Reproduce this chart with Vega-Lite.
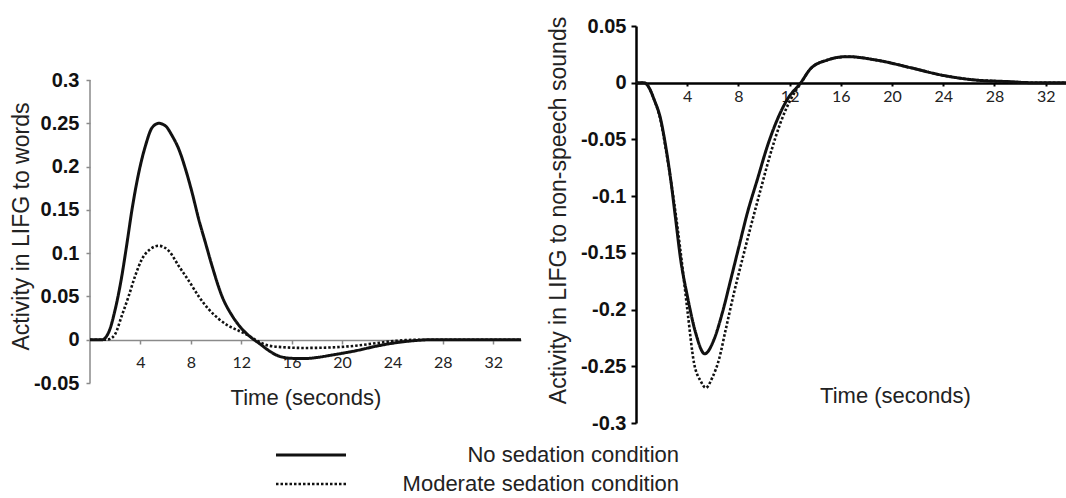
{
  "$schema": "https://vega.github.io/schema/vega-lite/v6.json",
  "background": "white",
  "padding": {"left": 10, "top": 16, "right": 0, "bottom": 0},
  "spacing": 19,
  "config": {"view": {"stroke": null}, "font": "Liberation Sans"},
  "datasets": {
    "curves": [
      {"panel": "words", "condition": "No sedation condition", "t": 0, "v": 0},
      {"panel": "words", "condition": "No sedation condition", "t": 0.95, "v": 0},
      {"panel": "words", "condition": "No sedation condition", "t": 1.48, "v": 0.0085},
      {"panel": "words", "condition": "No sedation condition", "t": 2.0, "v": 0.035},
      {"panel": "words", "condition": "No sedation condition", "t": 2.53, "v": 0.074},
      {"panel": "words", "condition": "No sedation condition", "t": 2.94, "v": 0.112},
      {"panel": "words", "condition": "No sedation condition", "t": 3.34, "v": 0.151},
      {"panel": "words", "condition": "No sedation condition", "t": 3.87, "v": 0.193},
      {"panel": "words", "condition": "No sedation condition", "t": 4.4, "v": 0.224},
      {"panel": "words", "condition": "No sedation condition", "t": 4.93, "v": 0.245},
      {"panel": "words", "condition": "No sedation condition", "t": 5.46, "v": 0.25},
      {"panel": "words", "condition": "No sedation condition", "t": 5.99, "v": 0.247},
      {"panel": "words", "condition": "No sedation condition", "t": 6.52, "v": 0.2355},
      {"panel": "words", "condition": "No sedation condition", "t": 7.05, "v": 0.22},
      {"panel": "words", "condition": "No sedation condition", "t": 7.58, "v": 0.197},
      {"panel": "words", "condition": "No sedation condition", "t": 8.1, "v": 0.17},
      {"panel": "words", "condition": "No sedation condition", "t": 8.63, "v": 0.139},
      {"panel": "words", "condition": "No sedation condition", "t": 9.16, "v": 0.112},
      {"panel": "words", "condition": "No sedation condition", "t": 9.69, "v": 0.085},
      {"panel": "words", "condition": "No sedation condition", "t": 10.48, "v": 0.05},
      {"panel": "words", "condition": "No sedation condition", "t": 11.28, "v": 0.0277},
      {"panel": "words", "condition": "No sedation condition", "t": 12.07, "v": 0.0123},
      {"panel": "words", "condition": "No sedation condition", "t": 12.87, "v": 0.0016},
      {"panel": "words", "condition": "No sedation condition", "t": 13.5, "v": -0.005},
      {"panel": "words", "condition": "No sedation condition", "t": 14.2, "v": -0.0127},
      {"panel": "words", "condition": "No sedation condition", "t": 15.0, "v": -0.019},
      {"panel": "words", "condition": "No sedation condition", "t": 16.0, "v": -0.0215},
      {"panel": "words", "condition": "No sedation condition", "t": 17.0, "v": -0.0218},
      {"panel": "words", "condition": "No sedation condition", "t": 18.0, "v": -0.0205},
      {"panel": "words", "condition": "No sedation condition", "t": 19.2, "v": -0.0177},
      {"panel": "words", "condition": "No sedation condition", "t": 21.1, "v": -0.0127},
      {"panel": "words", "condition": "No sedation condition", "t": 22.9, "v": -0.0069},
      {"panel": "words", "condition": "No sedation condition", "t": 24.5, "v": -0.003},
      {"panel": "words", "condition": "No sedation condition", "t": 25.8, "v": -0.001},
      {"panel": "words", "condition": "No sedation condition", "t": 27, "v": 0},
      {"panel": "words", "condition": "No sedation condition", "t": 34.2, "v": 0},
      {"panel": "words", "condition": "Moderate sedation condition", "t": 0, "v": 0},
      {"panel": "words", "condition": "Moderate sedation condition", "t": 1.3, "v": 0},
      {"panel": "words", "condition": "Moderate sedation condition", "t": 1.6, "v": 0.001},
      {"panel": "words", "condition": "Moderate sedation condition", "t": 2.0, "v": 0.0066},
      {"panel": "words", "condition": "Moderate sedation condition", "t": 2.53, "v": 0.028},
      {"panel": "words", "condition": "Moderate sedation condition", "t": 3.06, "v": 0.05},
      {"panel": "words", "condition": "Moderate sedation condition", "t": 3.59, "v": 0.074},
      {"panel": "words", "condition": "Moderate sedation condition", "t": 4.12, "v": 0.093},
      {"panel": "words", "condition": "Moderate sedation condition", "t": 4.79, "v": 0.1047},
      {"panel": "words", "condition": "Moderate sedation condition", "t": 5.46, "v": 0.1085},
      {"panel": "words", "condition": "Moderate sedation condition", "t": 6.25, "v": 0.1027},
      {"panel": "words", "condition": "Moderate sedation condition", "t": 7.05, "v": 0.085},
      {"panel": "words", "condition": "Moderate sedation condition", "t": 7.84, "v": 0.068},
      {"panel": "words", "condition": "Moderate sedation condition", "t": 8.63, "v": 0.05},
      {"panel": "words", "condition": "Moderate sedation condition", "t": 9.43, "v": 0.035},
      {"panel": "words", "condition": "Moderate sedation condition", "t": 10.22, "v": 0.024},
      {"panel": "words", "condition": "Moderate sedation condition", "t": 11.0, "v": 0.016},
      {"panel": "words", "condition": "Moderate sedation condition", "t": 11.8, "v": 0.0104},
      {"panel": "words", "condition": "Moderate sedation condition", "t": 12.6, "v": 0.0046},
      {"panel": "words", "condition": "Moderate sedation condition", "t": 13.1, "v": 0},
      {"panel": "words", "condition": "Moderate sedation condition", "t": 14.2, "v": -0.0069},
      {"panel": "words", "condition": "Moderate sedation condition", "t": 15.5, "v": -0.0088},
      {"panel": "words", "condition": "Moderate sedation condition", "t": 17, "v": -0.0095},
      {"panel": "words", "condition": "Moderate sedation condition", "t": 19, "v": -0.009},
      {"panel": "words", "condition": "Moderate sedation condition", "t": 21.1, "v": -0.0069},
      {"panel": "words", "condition": "Moderate sedation condition", "t": 22.7, "v": -0.004},
      {"panel": "words", "condition": "Moderate sedation condition", "t": 23.8, "v": -0.002},
      {"panel": "words", "condition": "Moderate sedation condition", "t": 25, "v": -0.0005},
      {"panel": "words", "condition": "Moderate sedation condition", "t": 26, "v": 0},
      {"panel": "words", "condition": "Moderate sedation condition", "t": 34.2, "v": 0},
      {"panel": "nonspeech", "condition": "No sedation condition", "t": 0, "v": 0},
      {"panel": "nonspeech", "condition": "No sedation condition", "t": 0.63, "v": 0},
      {"panel": "nonspeech", "condition": "No sedation condition", "t": 1.0, "v": -0.004},
      {"panel": "nonspeech", "condition": "No sedation condition", "t": 1.41, "v": -0.0147},
      {"panel": "nonspeech", "condition": "No sedation condition", "t": 1.93, "v": -0.0324},
      {"panel": "nonspeech", "condition": "No sedation condition", "t": 2.32, "v": -0.056},
      {"panel": "nonspeech", "condition": "No sedation condition", "t": 2.71, "v": -0.0853},
      {"panel": "nonspeech", "condition": "No sedation condition", "t": 3.1, "v": -0.1206},
      {"panel": "nonspeech", "condition": "No sedation condition", "t": 3.49, "v": -0.156},
      {"panel": "nonspeech", "condition": "No sedation condition", "t": 4.01, "v": -0.188},
      {"panel": "nonspeech", "condition": "No sedation condition", "t": 4.66, "v": -0.2206},
      {"panel": "nonspeech", "condition": "No sedation condition", "t": 5.37, "v": -0.239},
      {"panel": "nonspeech", "condition": "No sedation condition", "t": 6.09, "v": -0.2265},
      {"panel": "nonspeech", "condition": "No sedation condition", "t": 6.74, "v": -0.203},
      {"panel": "nonspeech", "condition": "No sedation condition", "t": 7.4, "v": -0.1736},
      {"panel": "nonspeech", "condition": "No sedation condition", "t": 8.05, "v": -0.144},
      {"panel": "nonspeech", "condition": "No sedation condition", "t": 8.7, "v": -0.1147},
      {"panel": "nonspeech", "condition": "No sedation condition", "t": 9.48, "v": -0.0853},
      {"panel": "nonspeech", "condition": "No sedation condition", "t": 10.26, "v": -0.056},
      {"panel": "nonspeech", "condition": "No sedation condition", "t": 11.04, "v": -0.0324},
      {"panel": "nonspeech", "condition": "No sedation condition", "t": 11.82, "v": -0.0147},
      {"panel": "nonspeech", "condition": "No sedation condition", "t": 12.87, "v": 0},
      {"panel": "nonspeech", "condition": "No sedation condition", "t": 13.65, "v": 0.0125},
      {"panel": "nonspeech", "condition": "No sedation condition", "t": 14.95, "v": 0.02},
      {"panel": "nonspeech", "condition": "No sedation condition", "t": 16.5, "v": 0.023},
      {"panel": "nonspeech", "condition": "No sedation condition", "t": 18.85, "v": 0.0198},
      {"panel": "nonspeech", "condition": "No sedation condition", "t": 21.46, "v": 0.0132},
      {"panel": "nonspeech", "condition": "No sedation condition", "t": 24.06, "v": 0.0063},
      {"panel": "nonspeech", "condition": "No sedation condition", "t": 26.4, "v": 0.0025},
      {"panel": "nonspeech", "condition": "No sedation condition", "t": 29, "v": 0.001},
      {"panel": "nonspeech", "condition": "No sedation condition", "t": 31, "v": 0},
      {"panel": "nonspeech", "condition": "No sedation condition", "t": 33.9, "v": 0},
      {"panel": "nonspeech", "condition": "Moderate sedation condition", "t": 0, "v": 0},
      {"panel": "nonspeech", "condition": "Moderate sedation condition", "t": 0.63, "v": 0},
      {"panel": "nonspeech", "condition": "Moderate sedation condition", "t": 1.0, "v": -0.004},
      {"panel": "nonspeech", "condition": "Moderate sedation condition", "t": 1.41, "v": -0.0147},
      {"panel": "nonspeech", "condition": "Moderate sedation condition", "t": 1.93, "v": -0.0335},
      {"panel": "nonspeech", "condition": "Moderate sedation condition", "t": 2.32, "v": -0.058},
      {"panel": "nonspeech", "condition": "Moderate sedation condition", "t": 2.71, "v": -0.0853},
      {"panel": "nonspeech", "condition": "Moderate sedation condition", "t": 3.23, "v": -0.1265},
      {"panel": "nonspeech", "condition": "Moderate sedation condition", "t": 3.62, "v": -0.162},
      {"panel": "nonspeech", "condition": "Moderate sedation condition", "t": 4.01, "v": -0.2},
      {"panel": "nonspeech", "condition": "Moderate sedation condition", "t": 4.53, "v": -0.247},
      {"panel": "nonspeech", "condition": "Moderate sedation condition", "t": 5.05, "v": -0.263},
      {"panel": "nonspeech", "condition": "Moderate sedation condition", "t": 5.45, "v": -0.269},
      {"panel": "nonspeech", "condition": "Moderate sedation condition", "t": 5.96, "v": -0.26},
      {"panel": "nonspeech", "condition": "Moderate sedation condition", "t": 6.48, "v": -0.244},
      {"panel": "nonspeech", "condition": "Moderate sedation condition", "t": 7.0, "v": -0.218},
      {"panel": "nonspeech", "condition": "Moderate sedation condition", "t": 7.66, "v": -0.185},
      {"panel": "nonspeech", "condition": "Moderate sedation condition", "t": 8.3, "v": -0.156},
      {"panel": "nonspeech", "condition": "Moderate sedation condition", "t": 8.96, "v": -0.127},
      {"panel": "nonspeech", "condition": "Moderate sedation condition", "t": 9.74, "v": -0.094},
      {"panel": "nonspeech", "condition": "Moderate sedation condition", "t": 10.52, "v": -0.062},
      {"panel": "nonspeech", "condition": "Moderate sedation condition", "t": 11.3, "v": -0.035},
      {"panel": "nonspeech", "condition": "Moderate sedation condition", "t": 12.08, "v": -0.0147},
      {"panel": "nonspeech", "condition": "Moderate sedation condition", "t": 12.9, "v": 0},
      {"panel": "nonspeech", "condition": "Moderate sedation condition", "t": 13.65, "v": 0.0125},
      {"panel": "nonspeech", "condition": "Moderate sedation condition", "t": 14.95, "v": 0.02},
      {"panel": "nonspeech", "condition": "Moderate sedation condition", "t": 16.5, "v": 0.023},
      {"panel": "nonspeech", "condition": "Moderate sedation condition", "t": 18.85, "v": 0.0198},
      {"panel": "nonspeech", "condition": "Moderate sedation condition", "t": 21.46, "v": 0.0132},
      {"panel": "nonspeech", "condition": "Moderate sedation condition", "t": 24.06, "v": 0.0063},
      {"panel": "nonspeech", "condition": "Moderate sedation condition", "t": 26.4, "v": 0.0025},
      {"panel": "nonspeech", "condition": "Moderate sedation condition", "t": 29, "v": 0.001},
      {"panel": "nonspeech", "condition": "Moderate sedation condition", "t": 31, "v": 0},
      {"panel": "nonspeech", "condition": "Moderate sedation condition", "t": 33.9, "v": 0}
    ],
    "axisline": [{"t": 0, "lo": -0.05, "hi": 0.3}]
  },
  "hconcat": [
    {
      "width": 431,
      "height": 357,
      "encoding": {
        "x": {
          "field": "t", "type": "quantitative",
          "scale": {"domain": [0, 34.2], "nice": false, "zero": false},
          "axis": {
            "title": "Time (seconds)", "values": [4, 8, 12, 16, 20, 24, 28, 32],
            "offset": -43, "grid": false,
            "domainColor": "#8a8a8a", "domainWidth": 1.5,
            "tickColor": "#8a8a8a", "tickSize": 4, "tickWidth": 1.5,
            "labelFont": "Lato", "labelFontSize": 16, "labelColor": "#222",
            "labelPadding": 10, "labelFlush": false, "labelOverlap": false,
            "labelDx": 5,
            "titleFontSize": 22, "titleFontWeight": "normal", "titleColor": "#222",
            "titleY": 57, "titleBaseline": "middle"
          }
        },
        "y": {
          "field": "v", "type": "quantitative",
          "scale": {"domain": [-0.05, 0.3624], "nice": false, "zero": false},
          "axis": {
            "title": "Activity in LIFG to words",
            "values": [-0.05, 0, 0.05, 0.1, 0.15, 0.2, 0.25, 0.3],
            "labelExpr": "replace(format(datum.value, '~g'), '\u2212', '-')",
            "grid": false, "domain": false,
            "tickColor": "#8a8a8a", "tickSize": 4, "tickWidth": 1.5,
            "labelFontSize": 20, "labelFontWeight": "bold", "labelColor": "#111",
            "labelPadding": 7, "labelFlush": false, "labelOverlap": false,
            "titleFontSize": 23, "titleFontWeight": "normal", "titleColor": "#222",
            "titleX": -69, "titleY": 200, "titleBaseline": "middle"
          }
        }
      },
      "layer": [
        {
          "data": {"name": "axisline"},
          "mark": {"type": "rule", "color": "#8a8a8a", "strokeWidth": 1.5},
          "encoding": {
            "x": {"field": "t", "type": "quantitative"},
            "y": {"field": "lo", "type": "quantitative"},
            "y2": {"field": "hi"}
          }
        },
        {
          "data": {"name": "curves"},
          "transform": [{"filter": "datum.panel === 'words'"}],
          "mark": {"type": "line", "interpolate": "monotone", "color": "#111"},
          "encoding": {
            "strokeDash": {
              "field": "condition", "type": "nominal",
              "scale": {"domain": ["No sedation condition", "Moderate sedation condition"], "range": [[1, 0], [2.5, 2]]},
              "legend": {
                "orient": "none", "legendX": 210, "legendY": 418, "title": null,
                "direction": "vertical", "padding": 0,
                "symbolType": "M-5,0H5", "symbolSize": 196, "symbolStrokeWidth": 2.7,
                "symbolStrokeColor": "#111", "symbolFillColor": "transparent",
                "labelFontSize": 22, "labelColor": "#222", "labelAlign": "right", "labelOffset": 357,
                "rowPadding": 7, "labelLimit": 600
              }
            },
            "strokeWidth": {
              "field": "condition", "type": "nominal",
              "scale": {"domain": ["No sedation condition", "Moderate sedation condition"], "range": [3, 2.6]},
              "legend": null
            }
          }
        }
      ]
    },
    {
      "width": 434,
      "height": 397,
      "data": {"name": "curves"},
      "transform": [{"filter": "datum.panel === 'nonspeech'"}],
      "mark": {"type": "line", "interpolate": "monotone", "color": "#111"},
      "encoding": {
        "x": {
          "field": "t", "type": "quantitative",
          "scale": {"domain": [0, 33.9], "nice": false, "zero": false},
          "axis": {
            "title": "Time (seconds)", "values": [4, 8, 12, 16, 20, 24, 28, 32],
            "offset": -340, "grid": false,
            "domainColor": "#000", "domainWidth": 2.5,
            "tickColor": "#000", "tickSize": 3, "tickWidth": 2,
            "labelFont": "Lato", "labelFontSize": 16, "labelColor": "#222",
            "labelPadding": 2, "labelFlush": false, "labelOverlap": false,
            "labelDx": 15,
            "titleFontSize": 22, "titleFontWeight": "normal", "titleColor": "#222",
            "titleX": 259, "titleY": 312, "titleBaseline": "middle"
          }
        },
        "y": {
          "field": "v", "type": "quantitative",
          "scale": {"domain": [-0.3, 0.05], "nice": false, "zero": false},
          "axis": {
            "title": "Activity in LIFG to non-speech sounds",
            "values": [-0.3, -0.25, -0.2, -0.15, -0.1, -0.05, 0, 0.05],
            "labelExpr": "replace(format(datum.value, '~g'), '\u2212', '-')",
            "grid": false,
            "domainColor": "#000", "domainWidth": 2.5,
            "tickColor": "#000", "tickSize": 5, "tickWidth": 2,
            "labelFontSize": 20, "labelFontWeight": "bold", "labelColor": "#111",
            "labelPadding": 5, "labelFlush": false, "labelOverlap": false,
            "titleFontSize": 23, "titleFontWeight": "normal", "titleColor": "#222",
            "titleX": -78, "titleY": 184, "titleBaseline": "middle"
          }
        },
        "strokeDash": {
          "field": "condition", "type": "nominal",
          "scale": {"domain": ["No sedation condition", "Moderate sedation condition"], "range": [[1, 0], [2.5, 2]]}
        },
        "strokeWidth": {
          "field": "condition", "type": "nominal",
          "scale": {"domain": ["No sedation condition", "Moderate sedation condition"], "range": [3.4, 3]},
          "legend": null
        }
      }
    }
  ]
}
